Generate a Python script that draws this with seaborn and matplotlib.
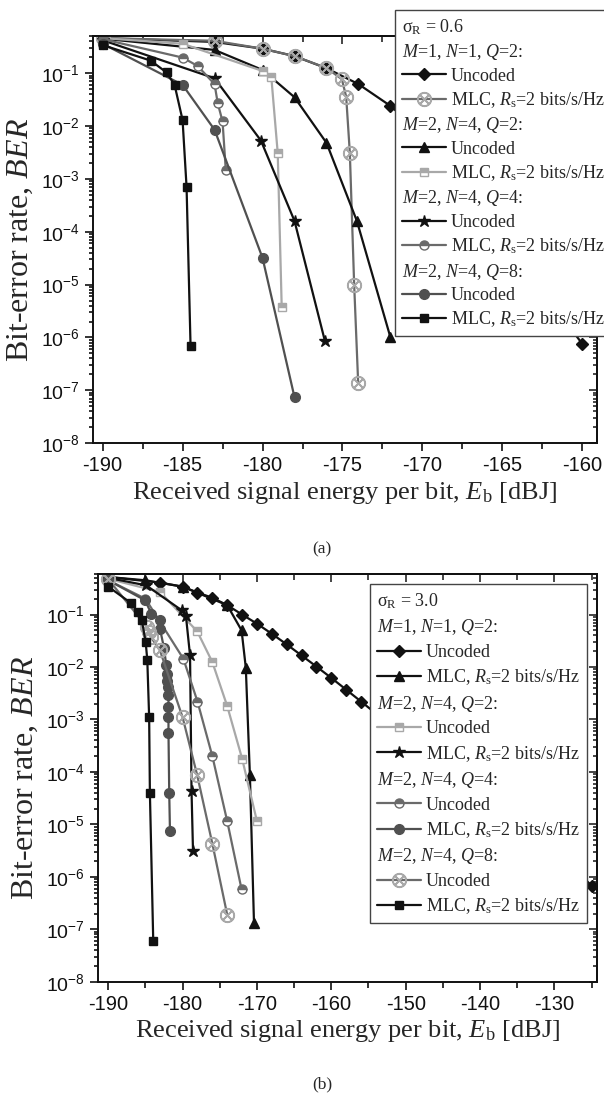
import math
import matplotlib
matplotlib.use('Agg')
import matplotlib.pyplot as plt
import matplotlib.ticker as mticker
from matplotlib.lines import Line2D
import seaborn as sns
import pandas as pd

# ---------------- data: (a) sigma_R = 0.6 ----------------
a_unc1_x = [-190, -183, -180, -178, -176, -174, -172, -170, -168, -166, -164, -162, -160]
a_unc1_y = [0.46, 0.39, 0.29, 0.21, 0.124, 0.062, 0.024, 7e-3, 1.5e-3, 2.5e-4, 4e-5, 5e-6, 7.5e-7]
a_mlc1_x = [-190, -183, -180, -178, -176, -175.04, -174.77, -174.54, -174.27, -174.02]
a_mlc1_y = [0.46, 0.41, 0.29, 0.21, 0.125, 0.077, 0.036, 3.1e-3, 1.0e-5, 1.4e-7]
a_unc2_x = [-190, -183, -180, -178, -176, -174.1, -172]
a_unc2_y = [0.45, 0.275, 0.115, 0.035, 4.8e-3, 1.6e-4, 1.0e-6]
a_mlc2_x = [-190, -185, -180, -179.45, -179.05, -178.8]
a_mlc2_y = [0.46, 0.36, 0.11, 0.084, 3.1e-3, 3.7e-6]
a_unc4_x = [-190, -183, -180.1, -178, -176.1]
a_unc4_y = [0.42, 0.08, 5.3e-3, 1.6e-4, 8.6e-7]
a_mlc4_x = [-190, -185, -184.06, -183, -182.8, -182.5, -182.3]
a_mlc4_y = [0.44, 0.197, 0.137, 0.062, 0.027, 0.0122, 1.5e-3]
a_unc8_x = [-190, -185, -183, -180, -178]
a_unc8_y = [0.36, 0.06, 8.5e-3, 3.2e-5, 7.4e-8]
a_mlc8_x = [-190, -187, -186, -185.5, -185, -184.75, -184.5]
a_mlc8_y = [0.34, 0.173, 0.103, 0.06, 0.013, 7e-4, 6.8e-7]

# ---------------- data: (b) sigma_R = 3.0 ----------------
b_unc1_x = [-190, -183, -180, -178, -176, -174, -172, -170, -168, -166, -164, -162, -160, -158, -156,
            -154, -150, -146, -142, -138, -134, -130, -127, -125]
b_unc1_y = [0.52, 0.405, 0.34, 0.263, 0.209, 0.151, 0.1, 0.067, 0.043, 0.027, 0.0166, 0.0102, 6.2e-3,
            3.7e-3, 2.2e-3, 1.3e-3, 5e-4, 1.7e-4, 6e-5, 2e-5, 7e-6, 2.5e-6, 1.3e-6, 6.8e-7]
b_mlc1_x = [-190, -185, -180, -174, -172.07, -171.5, -170.95, -170.4]
b_mlc1_y = [0.52, 0.45, 0.34, 0.151, 0.05, 9.7e-3, 8.7e-5, 1.33e-7]
b_unc2_x = [-190, -183.05, -178.04, -176, -174, -172, -170]
b_unc2_y = [0.48, 0.27, 0.048, 0.0124, 1.8e-3, 1.8e-4, 1.15e-5]
b_mlc2_x = [-190, -184.9, -180.1, -179.55, -179.0, -178.8, -178.6]
b_mlc2_y = [0.5, 0.36, 0.12, 0.093, 0.0166, 4.3e-5, 3.05e-6]
b_unc4_x = [-190, -185, -179.9, -178, -176, -174, -172.07]
b_unc4_y = [0.45, 0.2, 0.0144, 2.2e-3, 2.0e-4, 1.15e-5, 5.8e-7]
b_mlc4_x = [-190, -185.07, -184.2, -183.05, -183.05, -182.5, -182.2, -182.07, -182.07, -182.0,
            -181.9, -181.9, -181.9, -181.9, -181.8, -181.7]
b_mlc4_y = [0.45, 0.188, 0.104, 0.078, 0.054, 0.023, 0.0107, 0.0074, 0.0055, 0.0041,
            0.0029, 0.0017, 0.0011, 5.6e-4, 4e-5, 7.4e-6]
b_unc8_x = [-190, -184.8, -184.5, -184.26, -183.05, -180.0, -178.04, -176.0, -174.0]
b_unc8_y = [0.47, 0.058, 0.047, 0.037, 0.0207, 1.1e-3, 8.7e-5, 4.3e-6, 1.9e-7]
b_mlc8_x = [-190, -187.0, -185.97, -185.5, -184.97, -184.75, -184.5, -184.4, -183.95]
b_mlc8_y = [0.34, 0.168, 0.11, 0.08, 0.03, 0.0137, 1.1e-3, 4e-5, 6e-8]

hdr1 = '$M$=1, $N$=1, $Q$=2:'
hdr2 = '$M$=2, $N$=4, $Q$=2:'
hdr4 = '$M$=2, $N$=4, $Q$=4:'
hdr8 = '$M$=2, $N$=4, $Q$=8:'
lab_unc = 'Uncoded'
lab_mlc = 'MLC, $R_\\mathrm{s}$=2 bits/s/Hz'

sns.set_theme(style='ticks')
plt.rcParams['font.family'] = ['Liberation Serif', 'DejaVu Serif']
plt.rcParams['mathtext.fontset'] = 'custom'
plt.rcParams['mathtext.rm'] = 'Liberation Serif'
plt.rcParams['mathtext.it'] = 'Liberation Serif:italic'
plt.rcParams['mathtext.sf'] = 'Liberation Sans'

BLACK = '#111111'
DGRAY = '#505050'
MGRAY = '#6a6a6a'
LGRAY = '#a8a8a8'

# marker styles
S = {
    'diamond': dict(marker='D', color=BLACK, markersize=6),
    'otimes': dict(marker='$\\otimes$', color=MGRAY, markersize=10, mec=LGRAY, mfc=LGRAY),
    'tri': dict(marker='^', color=BLACK, markersize=7),
    'sq_light': dict(marker='s', color=LGRAY, markersize=6, fillstyle='top', mfcalt='white'),
    'star': dict(marker='*', color=BLACK, markersize=9),
    'half': dict(marker='o', color=MGRAY, markersize=6.5, fillstyle='top', mfcalt='white'),
    'circ': dict(marker='o', color=DGRAY, markersize=7),
    'sq_black': dict(marker='s', color=BLACK, markersize=6),
}


def draw(ax, x, y, st):
    st = dict(st)
    c = st.pop('color')
    mec = st.pop('mec', c)
    mfc = st.pop('mfc', c)
    alt = st.pop('mfcalt', None)
    kw = dict(markeredgecolor=mec, markerfacecolor=mfc, markeredgewidth=1.0)
    if alt is not None:
        kw['markerfacecoloralt'] = alt
    df = pd.DataFrame({'x': x, 'y': y})
    sns.lineplot(data=df, x='x', y='y', color=c, ax=ax, sort=False, estimator=None,
                 linewidth=1.6, **st, **kw)
    return ax.lines[-1]


def style_axes(ax, xlim, ylim, xmajor, xminor):
    ax.set_yscale('log')
    ax.set_xlim(*xlim)
    ax.set_ylim(*ylim)
    ax.xaxis.set_major_locator(mticker.MultipleLocator(xmajor))
    ax.xaxis.set_minor_locator(mticker.MultipleLocator(xminor))
    ax.yaxis.set_major_locator(mticker.LogLocator(base=10, numticks=20))
    ax.yaxis.set_minor_locator(mticker.LogLocator(base=10, subs=range(2, 10), numticks=20))
    ax.yaxis.set_major_formatter(mticker.FuncFormatter(
        lambda v, p: '$\\mathsf{10^{%d}}$' % round(math.log10(v))))
    ax.xaxis.set_major_formatter(mticker.FuncFormatter(lambda v, p: '%d' % v))
    ax.tick_params(which='both', direction='out', colors=BLACK, width=1.2)
    ax.tick_params(axis='x', labelsize=14.5, labelfontfamily='Liberation Sans')
    ax.tick_params(axis='y', labelsize=14)
    ax.tick_params(which='major', length=6)
    ax.tick_params(axis='x', which='minor', length=4)
    ax.tick_params(axis='y', which='minor', length=3)
    for sp in ax.spines.values():
        sp.set_linewidth(1.4)
        sp.set_color(BLACK)
        sp.set_visible(True)
    top = ax.secondary_xaxis('top')
    top.xaxis.set_major_locator(mticker.MultipleLocator(xmajor))
    top.xaxis.set_minor_locator(mticker.MultipleLocator(xminor))
    top.tick_params(which='both', direction='in', labeltop=False, width=1.2)
    top.tick_params(which='major', length=6)
    top.tick_params(which='minor', length=4)
    top.spines['top'].set_linewidth(1.4)
    right = ax.secondary_yaxis('right')
    right.yaxis.set_major_locator(mticker.LogLocator(base=10, numticks=20))
    right.yaxis.set_minor_locator(mticker.LogLocator(base=10, subs=range(2, 10), numticks=20))
    right.tick_params(which='both', direction='in', labelright=False, width=1.2)
    right.tick_params(which='major', length=6)
    right.tick_params(which='minor', length=3)
    right.spines['right'].set_linewidth(1.4)
    ax.set_xlabel('Received signal energy per bit, $E_\\mathrm{b}$ [dBJ]', fontsize=19, labelpad=3)
    ax.set_ylabel('Bit-error rate, $BER$', fontsize=23, labelpad=4)


def make_legend(fig, ax, handles, labels, title, bbox, spacing):
    leg = ax.legend(handles, labels, title=title, loc='upper left', bbox_to_anchor=bbox,
                    bbox_transform=fig.transFigure, frameon=True, fancybox=False,
                    edgecolor='#444444', framealpha=1.0, fontsize=13, title_fontsize=13,
                    handlelength=2.4, handletextpad=0.3, labelspacing=spacing, borderpad=0.4,
                    borderaxespad=0, alignment='left')
    leg.get_frame().set_linewidth(1.0)
    headers = {hdr1, hdr2, hdr4, hdr8}
    for col in leg._legend_handle_box.get_children():
        for row in col.get_children():
            ch = row.get_children()
            if len(ch) == 2 and ch[1].get_text() in headers:
                row._children = [ch[1]]
    return leg


blank = Line2D([], [], linestyle='none')

fig = plt.figure(figsize=(6.04, 10.97), dpi=100)
ax1 = fig.add_axes([0.154, 0.596, 0.834, 0.371])
ax2 = fig.add_axes([0.162, 0.105, 0.826, 0.372])

# ---- panel (a)
h = {}
h['unc1'] = draw(ax1, a_unc1_x, a_unc1_y, S['diamond'])
h['mlc1'] = draw(ax1, a_mlc1_x, a_mlc1_y, S['otimes'])
h['unc2'] = draw(ax1, a_unc2_x, a_unc2_y, S['tri'])
h['mlc2'] = draw(ax1, a_mlc2_x, a_mlc2_y, S['sq_light'])
h['unc4'] = draw(ax1, a_unc4_x, a_unc4_y, S['star'])
h['mlc4'] = draw(ax1, a_mlc4_x, a_mlc4_y, S['half'])
h['unc8'] = draw(ax1, a_unc8_x, a_unc8_y, S['circ'])
h['mlc8'] = draw(ax1, a_mlc8_x, a_mlc8_y, S['sq_black'])
style_axes(ax1, (-190.6, -159.1), (1e-8, 0.5), 5, 2.5)
make_legend(fig, ax1,
            [blank, h['unc1'], h['mlc1'], blank, h['unc2'], h['mlc2'],
             blank, h['unc4'], h['mlc4'], blank, h['unc8'], h['mlc8']],
            [hdr1, lab_unc, lab_mlc, hdr2, lab_unc, lab_mlc,
             hdr4, lab_unc, lab_mlc, hdr8, lab_unc, lab_mlc],
            'σ$_\\mathrm{R}$ = 0.6', (395 / 604, 1 - 10 / 1097), 0.3)
fig.text(322 / 604, 1 - 549 / 1097, '(a)', ha='center', va='center', fontsize=12.5)

# ---- panel (b)
g = {}
g['unc1'] = draw(ax2, b_unc1_x, b_unc1_y, S['diamond'])
g['mlc1'] = draw(ax2, b_mlc1_x, b_mlc1_y, S['tri'])
g['unc2'] = draw(ax2, b_unc2_x, b_unc2_y, S['sq_light'])
g['mlc2'] = draw(ax2, b_mlc2_x, b_mlc2_y, S['star'])
g['unc4'] = draw(ax2, b_unc4_x, b_unc4_y, S['half'])
g['mlc4'] = draw(ax2, b_mlc4_x, b_mlc4_y, S['circ'])
g['unc8'] = draw(ax2, b_unc8_x, b_unc8_y, S['otimes'])
g['mlc8'] = draw(ax2, b_mlc8_x, b_mlc8_y, S['sq_black'])
style_axes(ax2, (-191.4, -124.3), (1e-8, 0.6), 10, 5)
make_legend(fig, ax2,
            [blank, g['unc1'], g['mlc1'], blank, g['unc2'], g['mlc2'],
             blank, g['unc4'], g['mlc4'], blank, g['unc8'], g['mlc8']],
            [hdr1, lab_unc, lab_mlc, hdr2, lab_unc, lab_mlc,
             hdr4, lab_unc, lab_mlc, hdr8, lab_unc, lab_mlc],
            'σ$_\\mathrm{R}$ = 3.0', (370 / 604, 1 - 584 / 1097), 0.36)
fig.text(322 / 604, 1 - 1084 / 1097, '(b)', ha='center', va='center', fontsize=12.5)

fig.savefig('out.png', dpi=100, facecolor='white')
